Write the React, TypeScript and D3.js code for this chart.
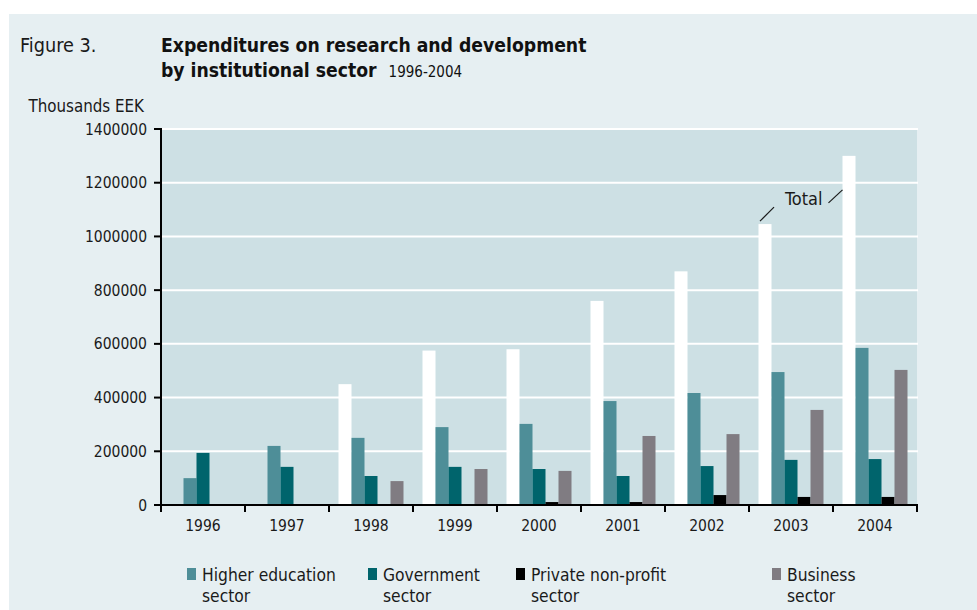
import React from "react";
import * as d3 from "d3";

const years = ["1996", "1997", "1998", "1999", "2000", "2001", "2002", "2003", "2004"];
const total = [0, 0, 450000, 575000, 580000, 760000, 870000, 1046000, 1300000];
const higherEducation = [100000, 220000, 250000, 290000, 302000, 387000, 417000, 495000, 585000];
const government = [194000, 142000, 108000, 142000, 134000, 108000, 145000, 168000, 171000];
const privateNonProfit = [0, 0, 0, 0, 11000, 11000, 37000, 30000, 30000];
const business = [0, 0, 89000, 134000, 127000, 257000, 264000, 354000, 503000];
const yTicks = [0, 200000, 400000, 600000, 800000, 1000000, 1200000, 1400000];

const seriesKeys = ["total", "higher", "gov", "private", "business"];
const seriesValues: Record<string, number[]> = {
  total,
  higher: higherEducation,
  gov: government,
  private: privateNonProfit,
  business,
};
const colors: Record<string, string> = {
  total: "#ffffff",
  higher: "#4e8e98",
  gov: "#00646c",
  private: "#000000",
  business: "#807c82",
};
const legendItems = [
  { key: "higher", l1: "Higher education", l2: "sector", x: 187 },
  { key: "gov", l1: "Government", l2: "sector", x: 368 },
  { key: "private", l1: "Private non-profit", l2: "sector", x: 516 },
  { key: "business", l1: "Business", l2: "sector", x: 772 },
];

const FONT = "'Liberation Sans Narrow', 'Arial Narrow', 'DejaVu Sans Condensed', sans-serif";

export default function App() {
  const left = 161, right = 917, top = 129, bottom = 505;
  const x = d3.scaleBand<string>().domain(years).range([left, right]).padding(0);
  const inner = d3.scaleBand<string>().domain(seriesKeys).range([9.5, x.bandwidth() - 9.5]).padding(0);
  const y = d3.scaleLinear().domain([0, 1400000]).range([bottom, top]);

  const i2003 = years.indexOf("2003");
  const i2004 = years.indexOf("2004");
  const t03x = (x("2003") as number) + (inner("total") as number) + inner.bandwidth() / 2;
  const t03y = y(total[i2003]);
  const t04x = (x("2004") as number) + (inner("total") as number);
  const t04y = y(total[i2004]);

  return (
    <svg width={977} height={610} style={{ position: "absolute", left: 0, top: 0 }} fontFamily={FONT}>
      <rect x={0} y={0} width={977} height={610} fill="#ffffff" />
      <rect x={9} y={14} width={968} height={596} fill="#e6eff2" />
      <text x={20} y={52} fontSize={19.7} fill="#1a1a1a">Figure 3.</text>
      <text x={161} y={52} fontSize={19.2} fontWeight="bold" fill="#111">Expenditures on research and development</text>
      <text x={161} y={77} fontSize={19.2} fontWeight="bold" fill="#111">
        by institutional sector
        <tspan fontSize={15} fontWeight="normal" dx={12}>1996-2004</tspan>
      </text>
      <text x={144} y={112} fontSize={16.8} textAnchor="end" fill="#1a1a1a">Thousands EEK</text>

      <rect x={left} y={top} width={right - left} height={bottom - top} fill="#cde0e4" />
      {yTicks.filter((t) => t > 0).map((t) => (
        <line key={t} x1={left} x2={right + 1} y1={y(t)} y2={y(t)} stroke="#ffffff" strokeWidth={2} />
      ))}

      {years.map((yr, i) => (
        <g key={yr} transform={`translate(${x(yr)},0)`}>
          {seriesKeys.map((k) => {
            const v = seriesValues[k][i];
            if (!v) return null;
            return (
              <rect
                key={k}
                x={inner(k)}
                y={y(v)}
                width={inner.bandwidth()}
                height={bottom - y(v)}
                fill={colors[k]}
              />
            );
          })}
        </g>
      ))}

      {/* axes */}
      <line x1={left} x2={left} y1={top - 1} y2={bottom + 7} stroke="#000" strokeWidth={2} />
      {yTicks.map((t) => (
        <g key={t}>
          <line x1={left - 7} x2={left} y1={y(t)} y2={y(t)} stroke="#000" strokeWidth={2} />
          <text x={147} y={y(t) + 5.5} fontSize={15.5} textAnchor="end" fill="#1a1a1a">{t}</text>
        </g>
      ))}
      <line x1={left - 7} x2={right + 1} y1={bottom} y2={bottom} stroke="#000" strokeWidth={2} />
      {years.map((yr) => (
        <line key={yr} x1={(x(yr) as number) + x.bandwidth()} x2={(x(yr) as number) + x.bandwidth()} y1={bottom} y2={bottom + 7} stroke="#000" strokeWidth={2} />
      ))}
      {years.map((yr) => (
        <text key={yr} x={(x(yr) as number) + x.bandwidth() / 2} y={531} fontSize={15.5} textAnchor="middle" fill="#1a1a1a">{yr}</text>
      ))}

      {/* Total annotation */}
      <text x={785} y={205} fontSize={18} fill="#1a1a1a">Total</text>
      <line x1={t03x - 5} y1={t03y - 3} x2={t03x + 9} y2={t03y - 17} stroke="#1a1a1a" strokeWidth={1.2} />
      <line x1={t04x - 14} y1={t04y + 47} x2={t04x} y2={t04y + 34} stroke="#1a1a1a" strokeWidth={1.2} />

      {/* legend */}
      {legendItems.map((it) => (
        <g key={it.key}>
          <rect x={it.x} y={568} width={9} height={12} fill={colors[it.key]} />
          <text x={it.x + 15} y={581} fontSize={17.3} fill="#1a1a1a">{it.l1}</text>
          <text x={it.x + 15} y={602} fontSize={17.3} fill="#1a1a1a">{it.l2}</text>
        </g>
      ))}
    </svg>
  );
}
